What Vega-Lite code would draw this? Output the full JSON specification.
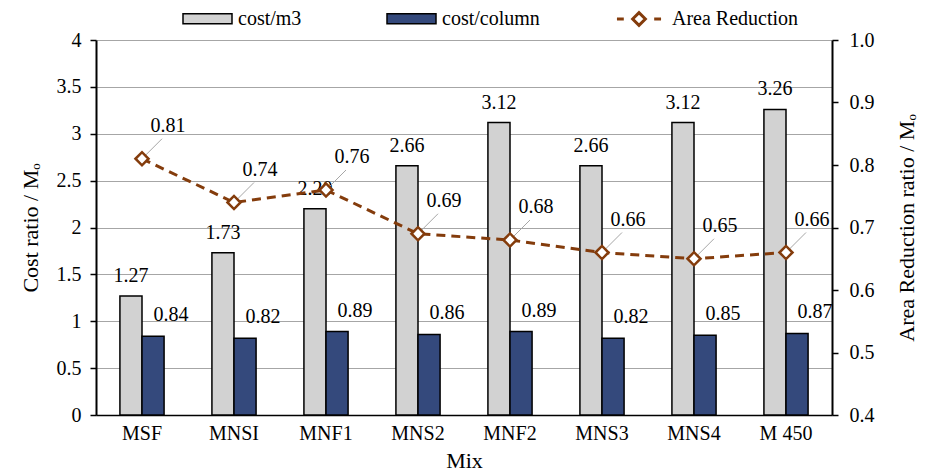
{
  "$schema": "https://vega.github.io/schema/vega-lite/v6.json",
  "width": 736,
  "height": 375,
  "autosize": "none",
  "padding": {"left": 96, "top": 40, "right": 96, "bottom": 60},
  "config": {
    "font": "Liberation Serif",
    "view": {"stroke": null},
    "text": {"font": "Liberation Serif"},
    "axis": {
      "labelFont": "Liberation Serif",
      "titleFont": "Liberation Serif",
      "labelFontSize": 20,
      "titleFontSize": 22,
      "labelColor": "black",
      "titleColor": "black",
      "titleFontWeight": "normal"
    },
    "legend": {"labelFont": "Liberation Serif", "labelFontSize": 20, "labelColor": "black"}
  },
  "datasets": {
    "bars": [
      {"mix": "MSF", "series": "cost/m3", "value": 1.27},
      {"mix": "MSF", "series": "cost/column", "value": 0.84},
      {"mix": "MNSI", "series": "cost/m3", "value": 1.73},
      {"mix": "MNSI", "series": "cost/column", "value": 0.82},
      {"mix": "MNF1", "series": "cost/m3", "value": 2.20},
      {"mix": "MNF1", "series": "cost/column", "value": 0.89},
      {"mix": "MNS2", "series": "cost/m3", "value": 2.66},
      {"mix": "MNS2", "series": "cost/column", "value": 0.86},
      {"mix": "MNF2", "series": "cost/m3", "value": 3.12},
      {"mix": "MNF2", "series": "cost/column", "value": 0.89},
      {"mix": "MNS3", "series": "cost/m3", "value": 2.66},
      {"mix": "MNS3", "series": "cost/column", "value": 0.82},
      {"mix": "MNS4", "series": "cost/m3", "value": 3.12},
      {"mix": "MNS4", "series": "cost/column", "value": 0.85},
      {"mix": "M 450", "series": "cost/m3", "value": 3.26},
      {"mix": "M 450", "series": "cost/column", "value": 0.87}
    ],
    "area": [
      {"mix": "MSF", "series": "Area Reduction", "area": 0.81},
      {"mix": "MNSI", "series": "Area Reduction", "area": 0.74},
      {"mix": "MNF1", "series": "Area Reduction", "area": 0.76},
      {"mix": "MNS2", "series": "Area Reduction", "area": 0.69},
      {"mix": "MNF2", "series": "Area Reduction", "area": 0.68},
      {"mix": "MNS3", "series": "Area Reduction", "area": 0.66},
      {"mix": "MNS4", "series": "Area Reduction", "area": 0.65},
      {"mix": "M 450", "series": "Area Reduction", "area": 0.66}
    ]
  },
  "encoding": {
    "x": {
      "field": "mix",
      "type": "nominal",
      "sort": null,
      "scale": {"paddingInner": 0.52, "paddingOuter": 0.26},
      "axis": {
        "title": "Mix",
        "labelAngle": 0,
        "ticks": false,
        "domainColor": "black",
        "domainWidth": 1.5,
        "labelPadding": 8,
        "titlePadding": 7
      }
    }
  },
  "layer": [
    {
      "data": {"name": "bars"},
      "encoding": {
        "xOffset": {"field": "series", "type": "nominal", "sort": ["cost/m3", "cost/column"], "scale": {"paddingInner": 0, "paddingOuter": 0}},
        "y": {
          "field": "value",
          "type": "quantitative",
          "scale": {"domain": [0, 4], "nice": false},
          "axis": {
            "title": "Cost ratio / M\u2092",
            "values": [0, 0.5, 1, 1.5, 2, 2.5, 3, 3.5, 4],
            "format": "~g",
            "grid": true,
            "gridColor": "#a6a6a6",
            "gridWidth": 1,
            "domainColor": "black",
            "domainWidth": 2,
            "tickColor": "black",
            "tickSize": 6,
            "tickWidth": 1.5,
            "labelPadding": 9,
            "titlePadding": 14
          }
        }
      },
      "layer": [
        {
          "mark": {"type": "bar", "stroke": "black", "strokeWidth": 1.5},
          "encoding": {
            "fill": {
              "field": "series",
              "type": "nominal",
              "scale": {"domain": ["cost/m3", "cost/column"], "range": ["#d2d2d2", "#34497c"]},
              "legend": {
                "orient": "none",
                "legendX": 86,
                "legendY": -47,
                "direction": "horizontal",
                "title": null,
                "symbolType": "M-1,-0.2H1V0.2H-1Z",
                "symbolSize": 2401,
                "symbolStrokeColor": "black",
                "symbolStrokeWidth": 1.5,
                "symbolOpacity": 1,
                "labelOffset": 5,
                "columnPadding": 82
              }
            }
          }
        },
        {
          "transform": [{"filter": "datum.series === 'cost/m3'"}],
          "mark": {"type": "text", "fontSize": 20, "baseline": "middle", "align": "center", "dy": -20, "color": "black"},
          "encoding": {"text": {"field": "value", "type": "quantitative", "format": ".2f"}}
        },
        {
          "transform": [{"filter": "datum.series === 'cost/column'"}],
          "mark": {"type": "text", "fontSize": 20, "baseline": "middle", "align": "center", "dx": 18, "dy": -21, "color": "black"},
          "encoding": {"text": {"field": "value", "type": "quantitative", "format": ".2f"}}
        }
      ]
    },
    {
      "data": {"name": "area"},
      "encoding": {
        "y": {
          "field": "area",
          "type": "quantitative",
          "scale": {"domain": [0.4, 1.0], "nice": false},
          "axis": {
            "orient": "right",
            "title": "Area Reduction ratio / M\u2092",
            "titleAngle": 270,
            "titleBaseline": "top",
            "values": [0.4, 0.5, 0.6, 0.7, 0.8, 0.9, 1.0],
            "format": ".1f",
            "grid": false,
            "domainColor": "black",
            "domainWidth": 2,
            "tickColor": "black",
            "tickSize": 6,
            "tickWidth": 1.5,
            "labelPadding": 11,
            "titlePadding": 22
          }
        }
      },
      "layer": [
        {
          "mark": {"type": "rule", "color": "#a6a6a6", "strokeWidth": 1, "x2Offset": 20, "y2Offset": -20},
          "encoding": {
            "x2": {"field": "mix"},
            "y2": {"field": "area"}
          }
        },
        {
          "mark": {"type": "line", "strokeWidth": 3, "strokeDash": [9, 6]},
          "encoding": {
            "stroke": {
              "field": "series",
              "type": "nominal",
              "scale": {"domain": ["Area Reduction"], "range": ["#843c0c"]},
              "legend": {
                "orient": "none",
                "legendX": 517,
                "legendY": -47,
                "direction": "horizontal",
                "title": null,
                "symbolType": "M-0.9,0H-0.62M-0.26,0L0,-0.26L0.26,0L0,0.26ZM0.62,0H0.9",
                "symbolSize": 2401,
                "symbolStrokeWidth": 3,
                "symbolFillColor": "white",
                "symbolOpacity": 1,
                "labelOffset": 7
              }
            }
          }
        },
        {
          "mark": {"type": "point", "shape": "diamond", "size": 170, "filled": true, "fill": "white", "stroke": "#843c0c", "strokeWidth": 2.5, "opacity": 1}
        },
        {
          "mark": {"type": "text", "fontSize": 20, "baseline": "middle", "align": "center", "dx": 26, "dy": -33, "color": "black"},
          "encoding": {"text": {"field": "area", "type": "quantitative", "format": ".2f"}}
        }
      ]
    }
  ],
  "resolve": {"scale": {"y": "independent"}}
}
